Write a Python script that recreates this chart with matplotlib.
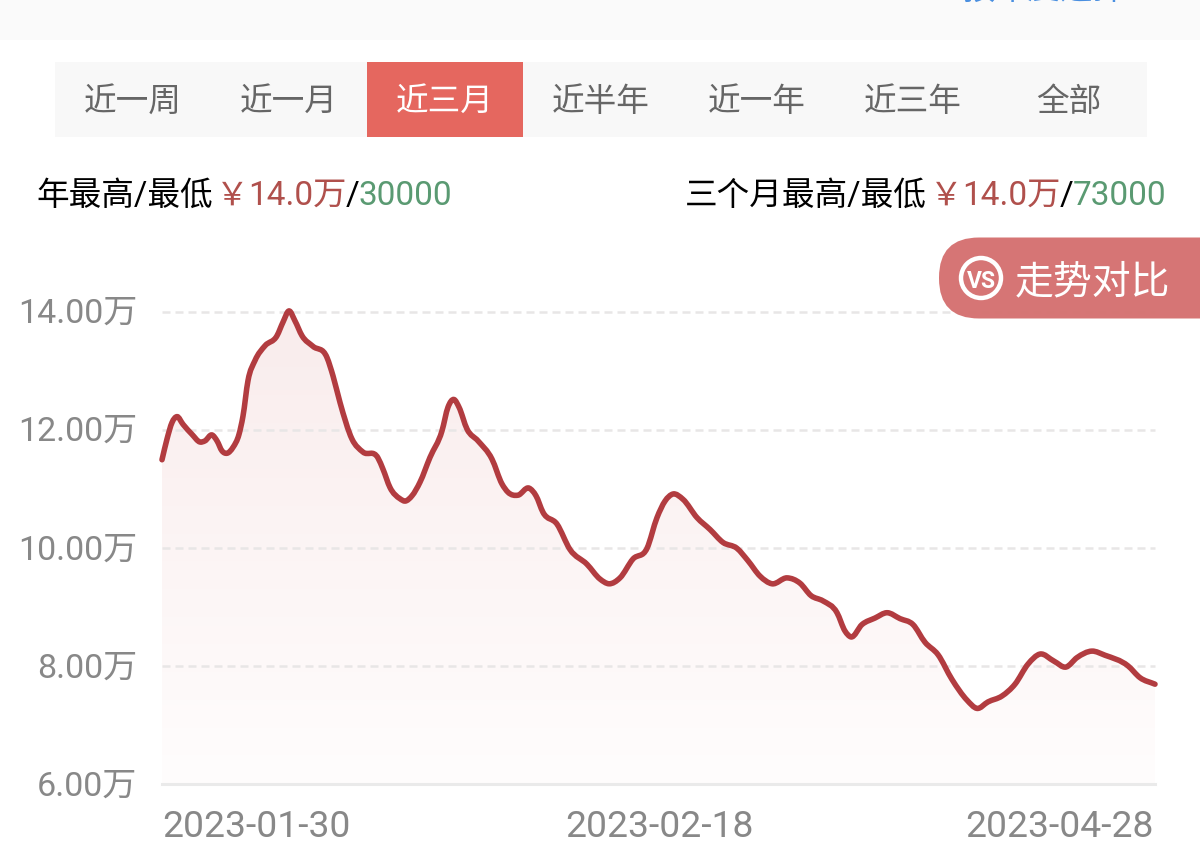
import numpy as np
import matplotlib
matplotlib.use('Agg')
import matplotlib.pyplot as plt
from matplotlib.colors import LinearSegmentedColormap
from matplotlib.patches import Circle, FancyBboxPatch, PathPatch, Rectangle
from matplotlib.path import Path
from matplotlib.transforms import ScaledTranslation

plt.rcParams['font.family'] = ['Roboto', 'Noto Sans CJK SC', 'DejaVu Sans']

# position along the time axis (0 = left end, 993 = right end) and price in 万
pos = [0, 5, 10, 15, 21, 30, 38, 43, 50, 55, 60, 65, 71, 77, 81, 86, 93, 103, 115, 121, 127,
       133, 140, 151, 165, 171, 178, 190, 201, 216, 221, 228, 238, 243, 250, 258, 268, 280,
       286, 292, 297, 305, 316, 330, 340, 346, 356, 367, 374, 381, 395, 408, 425, 438, 447,
       458, 471, 485, 495, 503, 511, 521, 535, 548, 561, 575, 586, 598, 610, 625, 638, 649,
       661, 675, 683, 689, 700, 713, 725, 738, 751, 763, 776, 790, 805, 815, 826, 840, 853,
       866, 878, 892, 904, 915, 930, 943, 966, 978, 993]
price = [11.49, 11.84, 12.12, 12.22, 12.09, 11.92, 11.79, 11.81, 11.91, 11.81, 11.64, 11.60,
         11.70, 11.92, 12.23, 12.83, 13.17, 13.42, 13.59, 13.82, 14.01, 13.84, 13.59, 13.41,
         13.22, 12.91, 12.46, 11.84, 11.62, 11.52, 11.33, 11.02, 10.83, 10.79, 10.88, 11.11,
         11.53, 11.98, 12.38, 12.51, 12.38, 12.01, 11.81, 11.50, 11.08, 10.94, 10.89, 11.01,
         10.88, 10.60, 10.40, 9.97, 9.72, 9.47, 9.39, 9.49, 9.81, 9.99, 10.51, 10.79, 10.91,
         10.82, 10.51, 10.31, 10.09, 9.99, 9.78, 9.52, 9.39, 9.49, 9.40, 9.19, 9.10, 8.90,
         8.59, 8.49, 8.70, 8.81, 8.90, 8.80, 8.70, 8.40, 8.19, 7.77, 7.42, 7.28, 7.39, 7.49,
         7.69, 8.03, 8.20, 8.08, 7.98, 8.14, 8.25, 8.18, 8.00, 7.80, 7.69]

y_ticks = [6, 8, 10, 12, 14]
y_labels = ['6.00万', '8.00万', '10.00万', '12.00万', '14.00万']
x_ticks = [0, 497, 992]
x_labels = ['2023-01-30', '2023-02-18', '2023-04-28']
tabs = ['近一周', '近一月', '近三月', '近半年', '近一年', '近三年', '全部']

W, H = 1200, 862
fig = plt.figure(figsize=(12, 8.62), dpi=100)

# chart
ax = fig.add_axes([162 / W, 1 - 785 / H, 993 / W, 472.5 / H])
ax.patch.set_alpha(0)

# smooth curve through the points, drawn as beziers
x = np.array(pos, dtype=float)
y = np.array(price)
slope = np.gradient(y, x)
verts = [(x[0], y[0])]
codes = [Path.MOVETO]
for i in range(len(x) - 1):
    d = (x[i + 1] - x[i]) / 3
    verts += [(x[i] + d, y[i] + slope[i] * d),
              (x[i + 1] - d, y[i + 1] - slope[i + 1] * d),
              (x[i + 1], y[i + 1])]
    codes += [Path.CURVE4] * 3
line = Path(verts, codes)
area = Path(verts + [(x[-1], 6), (x[0], 6), (x[0], y[0])],
            codes + [Path.LINETO, Path.LINETO, Path.LINETO])

cmap = LinearSegmentedColormap.from_list('fade', ['#fffdfd', '#f9ecec'])
img = ax.imshow(np.linspace(1, 0, 256).reshape(-1, 1), cmap=cmap, aspect='auto',
                extent=(0, 993, 6, 14), zorder=1)
img.set_clip_path(PathPatch(area, transform=ax.transData))

for t in y_ticks[1:]:
    ax.plot([0, 993], [t, t], color='#e8e6e6', lw=1.8, dashes=(3.2, 2), zorder=2,
            clip_on=False)
ax.add_patch(PathPatch(line, fc='none', ec='#b23c40', lw=4, capstyle='round',
                       joinstyle='round', zorder=3, clip_on=False))

ax.set_xlim(0, 993)
ax.set_ylim(6, 14)
for s in ['top', 'left', 'right']:
    ax.spines[s].set_visible(False)
ax.spines['bottom'].set_color('#eaeaea')
ax.spines['bottom'].set_linewidth(2.2)
ax.set_yticks(y_ticks, y_labels, fontsize=24.5, color='#888888')
ax.set_xticks(x_ticks, x_labels, fontsize=26.8, color='#888888')
ax.tick_params(axis='both', length=0)
ax.tick_params(axis='y', pad=18)
ax.tick_params(axis='x', pad=17)
for lab, ha in zip(ax.get_xticklabels(), ['left', 'center', 'right']):
    lab.set_ha(ha)
# labels sit slightly above their gridlines
for lab in ax.get_yticklabels():
    lab.set_transform(lab.get_transform() + ScaledTranslation(0, 2 / 100, fig.dpi_scale_trans))

# page furniture, in pixel coordinates
ui = fig.add_axes([0, 0, 1, 1], zorder=5)
ui.set_xlim(0, W)
ui.set_ylim(H, 0)
ui.axis('off')
ui.add_patch(Rectangle((0, 0), W, 40.5, fc='#fafafa', ec='none'))
ui.text(1125, -1, '按年度选择', color='#4a8fe0', fontsize=23.5, ha='right', va='baseline')

ui.add_patch(Rectangle((55, 62.5), 1092, 75, fc='#f8f8f8', ec='none'))
ui.add_patch(Rectangle((367, 62.5), 156, 75, fc='#e5675f', ec='none'))
for i, tab in enumerate(tabs):
    ui.text(133 + 156 * i, 111, tab, color='white' if i == 2 else '#666666', fontsize=23.5,
            ha='center', va='baseline')

red, green = '#b0504c', '#5a9a72'
ui.text(36, 205, '年最高/最低', color='black', fontsize=23.5)
ui.text(216, 205, '￥', color=red, fontsize=23.5, family='Noto Sans CJK SC')
ui.text(248, 205, '14.0万', color=red, fontsize=24)
ui.text(346, 205, '/', color='black', fontsize=24)
ui.text(359, 205, '30000', color=green, fontsize=24)
ui.text(685, 205, '三个月最高/最低', color='black', fontsize=23.5)
ui.text(930, 205, '￥', color=red, fontsize=23.5, family='Noto Sans CJK SC')
ui.text(962, 205, '14.0万', color=red, fontsize=24)
ui.text(1060, 205, '/', color='black', fontsize=24)
ui.text(1073, 205, '73000', color=green, fontsize=24)

ui.add_patch(FancyBboxPatch((939, 238.5), 320, 81, boxstyle='round,pad=0,rounding_size=40',
                            fc='#d57170', ec='none', alpha=0.97))
ui.add_patch(Circle((981, 279), 20, fc='none', ec='white', lw=3.2))
ui.text(981, 279, 'VS', color='white', fontsize=16.5, fontweight='bold', ha='center',
        va='center_baseline')
ui.text(1015, 293, '走势对比', color='white', fontsize=28, ha='left', va='baseline')

fig.savefig('out.png', dpi=100)
